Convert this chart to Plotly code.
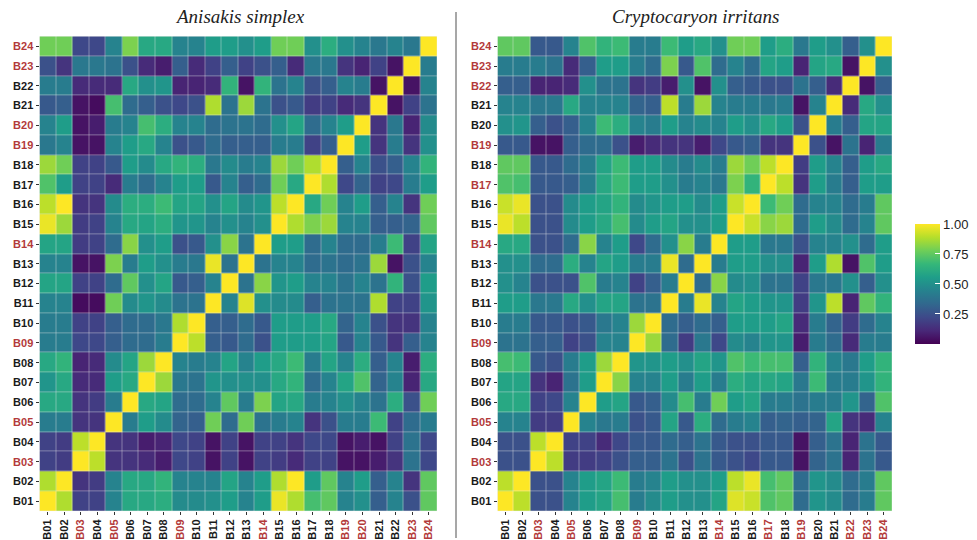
import plotly.graph_objects as go

labels = ["B%02d" % i for i in range(1, 25)]
red_left = {"B03", "B05", "B09", "B14", "B19", "B20", "B23", "B24"}
red_right = {"B03", "B05", "B09", "B14", "B17", "B19", "B22", "B23", "B24"}

# Anisakis simplex: rows B01..B24, columns B01..B24
anisakis = [
    [1, 0.88, 0.2, 0.2, 0.45, 0.6, 0.6, 0.62, 0.48, 0.48, 0.5, 0.55, 0.45, 0.55, 0.97, 0.88, 0.7, 0.75, 0.45, 0.5, 0.3, 0.45, 0.25, 0.75],
    [0.88, 1, 0.15, 0.18, 0.45, 0.6, 0.6, 0.65, 0.45, 0.45, 0.45, 0.58, 0.45, 0.55, 0.88, 1.0, 0.55, 0.75, 0.45, 0.55, 0.3, 0.45, 0.15, 0.75],
    [0.2, 0.18, 1, 0.9, 0.15, 0.15, 0.12, 0.08, 0.22, 0.2, 0.05, 0.2, 0.05, 0.2, 0.18, 0.12, 0.2, 0.2, 0.05, 0.05, 0.08, 0.15, 0.38, 0.22],
    [0.2, 0.18, 0.9, 1, 0.15, 0.15, 0.08, 0.1, 0.22, 0.2, 0.05, 0.2, 0.05, 0.2, 0.2, 0.15, 0.22, 0.22, 0.05, 0.08, 0.05, 0.2, 0.38, 0.22],
    [0.42, 0.42, 0.15, 0.15, 1, 0.42, 0.55, 0.48, 0.32, 0.3, 0.78, 0.35, 0.78, 0.38, 0.42, 0.45, 0.15, 0.25, 0.42, 0.42, 0.68, 0.2, 0.35, 0.42],
    [0.6, 0.6, 0.15, 0.18, 0.42, 1, 0.6, 0.58, 0.35, 0.35, 0.45, 0.75, 0.42, 0.8, 0.58, 0.6, 0.42, 0.45, 0.5, 0.45, 0.38, 0.62, 0.25, 0.78],
    [0.52, 0.6, 0.12, 0.12, 0.55, 0.6, 1, 0.85, 0.4, 0.38, 0.52, 0.5, 0.5, 0.5, 0.6, 0.65, 0.35, 0.45, 0.58, 0.72, 0.32, 0.45, 0.1, 0.6],
    [0.6, 0.65, 0.1, 0.12, 0.48, 0.58, 0.85, 1, 0.45, 0.42, 0.45, 0.58, 0.45, 0.55, 0.6, 0.68, 0.42, 0.58, 0.45, 0.62, 0.3, 0.45, 0.08, 0.62],
    [0.42, 0.42, 0.22, 0.22, 0.3, 0.35, 0.35, 0.42, 1, 0.9, 0.3, 0.28, 0.35, 0.25, 0.55, 0.55, 0.55, 0.58, 0.28, 0.45, 0.28, 0.15, 0.3, 0.45],
    [0.42, 0.42, 0.2, 0.2, 0.3, 0.35, 0.35, 0.4, 0.88, 1, 0.3, 0.3, 0.35, 0.28, 0.55, 0.55, 0.55, 0.6, 0.32, 0.45, 0.25, 0.15, 0.15, 0.45],
    [0.45, 0.45, 0.03, 0.03, 0.78, 0.48, 0.52, 0.48, 0.38, 0.38, 1, 0.45, 0.95, 0.5, 0.48, 0.48, 0.3, 0.38, 0.38, 0.38, 0.88, 0.2, 0.2, 0.52],
    [0.58, 0.58, 0.2, 0.2, 0.35, 0.75, 0.5, 0.58, 0.28, 0.3, 0.45, 1, 0.38, 0.82, 0.52, 0.55, 0.45, 0.45, 0.38, 0.45, 0.38, 0.65, 0.25, 0.55],
    [0.45, 0.45, 0.05, 0.05, 0.8, 0.42, 0.55, 0.5, 0.42, 0.4, 0.97, 0.38, 1, 0.38, 0.45, 0.45, 0.35, 0.38, 0.35, 0.38, 0.85, 0.05, 0.25, 0.45],
    [0.58, 0.58, 0.18, 0.2, 0.35, 0.82, 0.5, 0.55, 0.25, 0.28, 0.5, 0.82, 0.38, 1, 0.55, 0.55, 0.35, 0.45, 0.35, 0.35, 0.42, 0.68, 0.2, 0.58],
    [0.97, 0.85, 0.18, 0.2, 0.45, 0.6, 0.58, 0.62, 0.52, 0.52, 0.45, 0.5, 0.45, 0.5, 1, 0.88, 0.8, 0.85, 0.45, 0.45, 0.3, 0.3, 0.32, 0.75],
    [0.9, 1.0, 0.15, 0.15, 0.48, 0.62, 0.62, 0.68, 0.58, 0.58, 0.5, 0.58, 0.48, 0.52, 0.9, 1, 0.6, 0.78, 0.45, 0.55, 0.3, 0.45, 0.15, 0.78],
    [0.72, 0.55, 0.2, 0.2, 0.12, 0.42, 0.35, 0.45, 0.55, 0.55, 0.28, 0.45, 0.3, 0.35, 0.78, 0.6, 1, 0.88, 0.22, 0.32, 0.2, 0.22, 0.42, 0.55],
    [0.85, 0.78, 0.2, 0.2, 0.28, 0.55, 0.48, 0.6, 0.65, 0.62, 0.4, 0.48, 0.42, 0.45, 0.85, 0.78, 0.88, 1, 0.3, 0.45, 0.25, 0.3, 0.45, 0.65],
    [0.4, 0.45, 0.05, 0.05, 0.45, 0.55, 0.6, 0.45, 0.25, 0.28, 0.35, 0.3, 0.3, 0.3, 0.42, 0.42, 0.2, 0.3, 1, 0.55, 0.15, 0.42, 0.15, 0.5],
    [0.45, 0.55, 0.05, 0.08, 0.42, 0.45, 0.7, 0.62, 0.45, 0.45, 0.35, 0.38, 0.38, 0.35, 0.5, 0.58, 0.35, 0.45, 0.55, 1, 0.15, 0.4, 0.1, 0.48],
    [0.28, 0.3, 0.05, 0.03, 0.7, 0.35, 0.3, 0.25, 0.22, 0.25, 0.88, 0.38, 0.85, 0.38, 0.25, 0.28, 0.18, 0.2, 0.12, 0.15, 1, 0.05, 0.2, 0.38],
    [0.42, 0.42, 0.12, 0.12, 0.12, 0.6, 0.5, 0.52, 0.1, 0.1, 0.12, 0.65, 0.05, 0.65, 0.38, 0.45, 0.25, 0.3, 0.45, 0.42, 0.05, 1, 0.05, 0.45],
    [0.25, 0.15, 0.4, 0.4, 0.38, 0.25, 0.12, 0.08, 0.3, 0.12, 0.2, 0.3, 0.2, 0.25, 0.3, 0.12, 0.4, 0.4, 0.15, 0.1, 0.2, 0.05, 1, 0.42],
    [0.78, 0.78, 0.22, 0.22, 0.45, 0.8, 0.6, 0.6, 0.45, 0.45, 0.55, 0.55, 0.5, 0.55, 0.78, 0.78, 0.5, 0.62, 0.5, 0.45, 0.4, 0.45, 0.4, 1],
]

# Cryptocaryon irritans: rows B01..B24, columns B01..B24
cryptocaryon = [
    [1, 0.9, 0.25, 0.25, 0.45, 0.55, 0.58, 0.7, 0.42, 0.48, 0.55, 0.5, 0.5, 0.58, 0.95, 0.92, 0.72, 0.75, 0.35, 0.52, 0.48, 0.35, 0.42, 0.75],
    [0.9, 1, 0.25, 0.25, 0.45, 0.55, 0.58, 0.68, 0.42, 0.45, 0.55, 0.5, 0.5, 0.55, 0.9, 0.97, 0.7, 0.75, 0.35, 0.52, 0.48, 0.35, 0.42, 0.75],
    [0.25, 0.25, 1, 0.9, 0.18, 0.18, 0.2, 0.25, 0.3, 0.3, 0.38, 0.25, 0.38, 0.28, 0.25, 0.22, 0.28, 0.28, 0.05, 0.32, 0.38, 0.1, 0.38, 0.28],
    [0.25, 0.25, 0.9, 1, 0.2, 0.2, 0.12, 0.22, 0.28, 0.28, 0.35, 0.3, 0.38, 0.28, 0.25, 0.25, 0.28, 0.28, 0.05, 0.3, 0.38, 0.1, 0.38, 0.28],
    [0.45, 0.45, 0.18, 0.18, 1, 0.45, 0.4, 0.42, 0.25, 0.28, 0.58, 0.28, 0.62, 0.35, 0.42, 0.45, 0.3, 0.32, 0.3, 0.32, 0.58, 0.15, 0.12, 0.45],
    [0.6, 0.6, 0.2, 0.22, 0.45, 1, 0.55, 0.58, 0.28, 0.3, 0.48, 0.7, 0.42, 0.78, 0.55, 0.58, 0.42, 0.42, 0.38, 0.42, 0.42, 0.52, 0.32, 0.72],
    [0.58, 0.58, 0.15, 0.1, 0.38, 0.55, 1, 0.82, 0.45, 0.45, 0.55, 0.42, 0.55, 0.42, 0.62, 0.58, 0.6, 0.58, 0.4, 0.68, 0.42, 0.42, 0.52, 0.65],
    [0.7, 0.68, 0.28, 0.25, 0.42, 0.55, 0.85, 1, 0.52, 0.52, 0.55, 0.5, 0.58, 0.52, 0.72, 0.68, 0.7, 0.7, 0.3, 0.65, 0.45, 0.4, 0.55, 0.65],
    [0.38, 0.38, 0.3, 0.3, 0.2, 0.25, 0.45, 0.45, 1, 0.85, 0.35, 0.18, 0.4, 0.22, 0.48, 0.45, 0.52, 0.52, 0.08, 0.42, 0.35, 0.12, 0.42, 0.42],
    [0.42, 0.42, 0.28, 0.28, 0.25, 0.28, 0.4, 0.45, 0.85, 1, 0.35, 0.3, 0.35, 0.3, 0.55, 0.55, 0.55, 0.58, 0.12, 0.42, 0.32, 0.18, 0.35, 0.45],
    [0.55, 0.55, 0.4, 0.4, 0.6, 0.5, 0.58, 0.58, 0.38, 0.38, 1, 0.42, 0.97, 0.45, 0.58, 0.55, 0.52, 0.52, 0.18, 0.52, 0.9, 0.1, 0.75, 0.65],
    [0.5, 0.45, 0.25, 0.25, 0.25, 0.72, 0.42, 0.45, 0.2, 0.3, 0.42, 1, 0.35, 0.82, 0.48, 0.5, 0.38, 0.38, 0.2, 0.4, 0.4, 0.5, 0.3, 0.5],
    [0.5, 0.5, 0.35, 0.35, 0.62, 0.45, 0.58, 0.55, 0.42, 0.42, 0.97, 0.35, 1, 0.42, 0.55, 0.55, 0.5, 0.5, 0.1, 0.55, 0.88, 0.05, 0.72, 0.55],
    [0.6, 0.6, 0.25, 0.25, 0.35, 0.82, 0.45, 0.55, 0.22, 0.35, 0.5, 0.82, 0.42, 1, 0.55, 0.55, 0.4, 0.4, 0.25, 0.45, 0.45, 0.5, 0.35, 0.55],
    [0.97, 0.9, 0.25, 0.25, 0.48, 0.55, 0.6, 0.7, 0.48, 0.55, 0.58, 0.5, 0.5, 0.55, 1, 0.92, 0.82, 0.85, 0.35, 0.55, 0.48, 0.35, 0.45, 0.75],
    [0.92, 0.97, 0.25, 0.25, 0.48, 0.55, 0.58, 0.65, 0.48, 0.52, 0.55, 0.55, 0.48, 0.55, 0.92, 1, 0.68, 0.78, 0.35, 0.45, 0.45, 0.35, 0.42, 0.75],
    [0.72, 0.7, 0.28, 0.28, 0.3, 0.42, 0.6, 0.68, 0.55, 0.55, 0.5, 0.42, 0.45, 0.4, 0.8, 0.65, 1, 0.9, 0.15, 0.55, 0.42, 0.3, 0.55, 0.55],
    [0.75, 0.75, 0.28, 0.28, 0.35, 0.42, 0.58, 0.68, 0.55, 0.55, 0.48, 0.42, 0.48, 0.42, 0.85, 0.78, 0.9, 1, 0.18, 0.55, 0.45, 0.3, 0.55, 0.6],
    [0.28, 0.28, 0.05, 0.05, 0.3, 0.35, 0.35, 0.25, 0.08, 0.12, 0.15, 0.15, 0.08, 0.22, 0.28, 0.3, 0.15, 0.15, 1, 0.25, 0.05, 0.38, 0.1, 0.42],
    [0.5, 0.52, 0.3, 0.25, 0.3, 0.45, 0.68, 0.62, 0.45, 0.42, 0.55, 0.45, 0.48, 0.45, 0.55, 0.5, 0.6, 0.55, 0.25, 1, 0.42, 0.3, 0.58, 0.58],
    [0.45, 0.45, 0.4, 0.4, 0.6, 0.45, 0.45, 0.45, 0.32, 0.3, 0.9, 0.42, 0.85, 0.45, 0.42, 0.42, 0.4, 0.42, 0.05, 0.45, 1, 0.12, 0.6, 0.5],
    [0.3, 0.3, 0.1, 0.1, 0.12, 0.5, 0.38, 0.38, 0.15, 0.18, 0.08, 0.5, 0.05, 0.5, 0.3, 0.28, 0.25, 0.25, 0.38, 0.3, 0.12, 1, 0.05, 0.3],
    [0.42, 0.42, 0.42, 0.38, 0.12, 0.3, 0.55, 0.55, 0.42, 0.35, 0.8, 0.28, 0.72, 0.35, 0.45, 0.35, 0.58, 0.55, 0.1, 0.58, 0.6, 0.05, 1, 0.5],
    [0.75, 0.75, 0.28, 0.28, 0.45, 0.72, 0.65, 0.68, 0.42, 0.42, 0.68, 0.55, 0.6, 0.5, 0.78, 0.78, 0.55, 0.62, 0.4, 0.55, 0.5, 0.3, 0.5, 1],
]

colorbar_ticks = [0.25, 0.5, 0.75, 1.0]
colorbar_ticktext = ["0.25", "0.50", "0.75", "1.00"]

W, H = 977, 540


def ticktext(red):
    out = []
    for lab in labels:
        col = "#b33a3a" if lab in red else "#1a1a1a"
        out.append("<span style='color:%s'><b>%s</b></span>" % (col, lab))
    return out


fig = go.Figure()
fig.add_trace(go.Heatmap(
    z=anisakis, x=labels, y=labels, xaxis="x", yaxis="y",
    colorscale="Viridis", zmin=0, zmax=1, xgap=0.4, ygap=0.4,
    showscale=False,
))
fig.add_trace(go.Heatmap(
    z=cryptocaryon, x=labels, y=labels, xaxis="x2", yaxis="y2",
    colorscale="Viridis", zmin=0, zmax=1, xgap=0.4, ygap=0.4,
    showscale=True,
    colorbar=dict(
        x=915 / W, xanchor="left", y=1 - 285 / H, yanchor="middle",
        lenmode="pixels", len=120, thickness=25, thicknessmode="pixels",
        tickvals=colorbar_ticks, ticktext=colorbar_ticktext,
        ticks="inside", ticklen=5, tickcolor="white",
        tickfont=dict(family="Liberation Sans, Arial", size=13, color="#222"),
        outlinewidth=0, xpad=0, ypad=0,
    ),
))

tickfont = dict(family="Liberation Sans, Arial", size=11, color="#1a1a1a")
ydom = [1 - 513 / H, 1 - 36.5 / H]

common_x = dict(type="category", tickangle=-90, ticks="outside", ticklen=3,
                tickcolor="#333", showgrid=False, zeroline=False, showline=False,
                tickfont=tickfont, tickvals=labels, fixedrange=True)
common_y = dict(type="category", ticks="outside", ticklen=3, tickcolor="#333",
                showgrid=False, zeroline=False, showline=False,
                tickfont=tickfont, tickvals=labels, fixedrange=True)

fig.update_layout(
    width=W, height=H,
    margin=dict(l=0, r=0, t=0, b=0),
    paper_bgcolor="white", plot_bgcolor="#e8e8e8",
    xaxis=dict(domain=[39.5 / W, 437 / W], anchor="y", ticktext=ticktext(red_left), **common_x),
    yaxis=dict(domain=ydom, anchor="x", ticktext=ticktext(red_left), **common_y),
    xaxis2=dict(domain=[497.5 / W, 892 / W], anchor="y2", ticktext=ticktext(red_right), **common_x),
    yaxis2=dict(domain=ydom, anchor="x2", ticktext=ticktext(red_right), **common_y),
    annotations=[
        dict(text="<i>Anisakis simplex</i>", x=240 / W, y=1 - 17 / H, xref="paper", yref="paper",
             xanchor="center", yanchor="middle", showarrow=False,
             font=dict(family="Liberation Serif, Times New Roman", size=19, color="#222")),
        dict(text="<i>Cryptocaryon irritans</i>", x=695 / W, y=1 - 17 / H, xref="paper", yref="paper",
             xanchor="center", yanchor="middle", showarrow=False,
             font=dict(family="Liberation Serif, Times New Roman", size=19, color="#222")),
    ],
    shapes=[
        dict(type="line", xref="paper", yref="paper", x0=456 / W, x1=456 / W,
             y0=0, y1=1 - 12 / H, line=dict(color="#8a8a8a", width=1.5)),
    ],
)

fig.write_html("out.html")
